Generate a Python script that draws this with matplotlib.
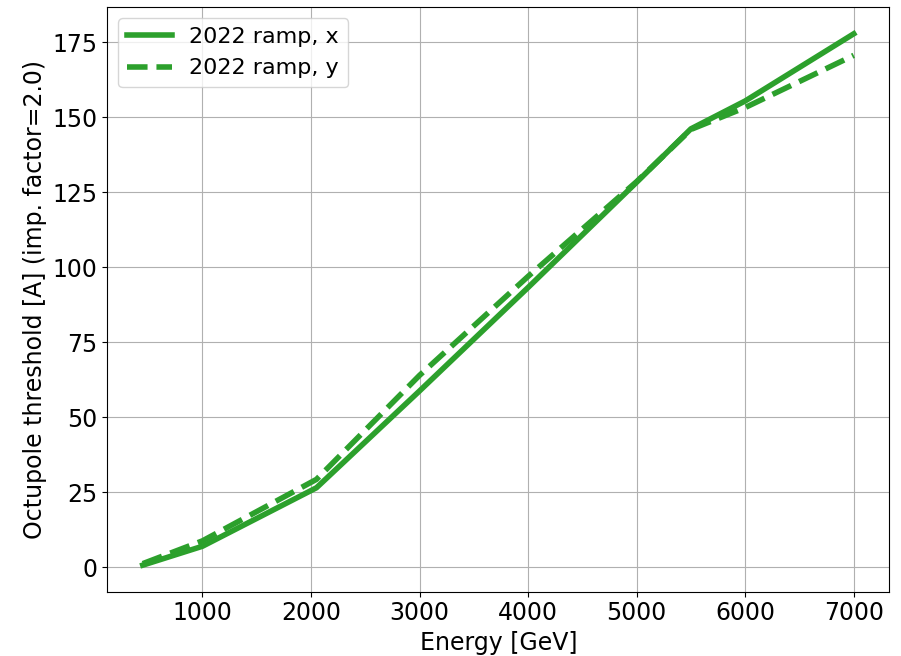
import numpy as np
import matplotlib
matplotlib.use("Agg")
import matplotlib.pyplot as plt

# energy points of the ramp [GeV]
energy = [450, 1000, 2050, 3000, 4000, 5000, 5500, 6000, 7000]
# octupole thresholds [A]
thr_x = [0.7, 7.0, 26.5, 58.8, 93.3, 128.4, 146.2, 155.5, 177.9]
thr_y = [1.2, 8.8, 29.3, 64.0, 97.0, 128.6, 146.0, 153.3, 170.7]

fig = plt.figure(figsize=(9.01, 6.56), dpi=100, facecolor="white")
fig.subplots_adjust(left=0.119, right=0.987, bottom=0.098, top=0.989)
ax = fig.add_subplot(1, 1, 1)

ax.plot(energy, thr_x, color="#2ca02c", lw=4, ls="-", label="2022 ramp, x")
ax.plot(energy, thr_y, color="#2ca02c", lw=4, ls="--", label="2022 ramp, y")

ax.set_xlabel("Energy [GeV]", fontsize=17)
ax.set_ylabel("Octupole threshold [A] (imp. factor=2.0)", fontsize=17)
ax.tick_params(labelsize=17)
ax.set_yticks(np.arange(0, 176, 25))
ax.grid(True)
ax.legend(loc="upper left", fontsize=16)

fig.savefig("out.png", dpi=100)
